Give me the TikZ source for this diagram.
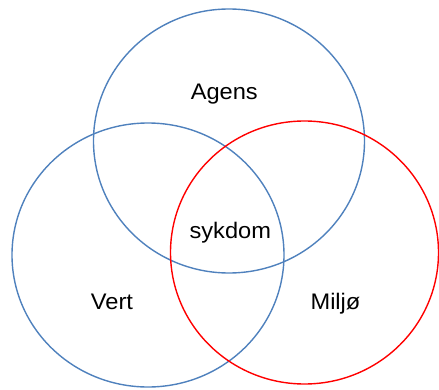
\documentclass[tikz,border=0pt]{standalone}
\usepackage{fontspec}
\setmainfont{Liberation Sans}
\definecolor{vblue}{RGB}{79,129,189}
\definecolor{vred}{RGB}{255,0,0}
\tikzset{
  ring/.style={line width=1.4pt},
  lbl/.style={anchor=base, inner sep=0pt, font=\fontsize{22.5}{27}\selectfont, xscale=1.05}
}
\begin{document}
\begin{tikzpicture}[x=1pt,y=1pt]
\useasboundingbox (0,0) rectangle (439,389);
\draw[ring, vblue] (229,248) ellipse [x radius=135.5, y radius=132];
\draw[ring, vblue] (148,134) ellipse [x radius=136, y radius=132];
\draw[ring, vred] (304.5,136.5) ellipse [x radius=134, y radius=131.5];
\node[lbl] (agens) at (224.3,289.7) {Agens};
\node[lbl] (sykdom) at (230.3,150.7) {sykdom};
\node[lbl] (vert) at (112,79.7) {Vert};
\node[lbl] (miljo) at (335.5,79.7) {Miljø};
\end{tikzpicture}
\end{document}
